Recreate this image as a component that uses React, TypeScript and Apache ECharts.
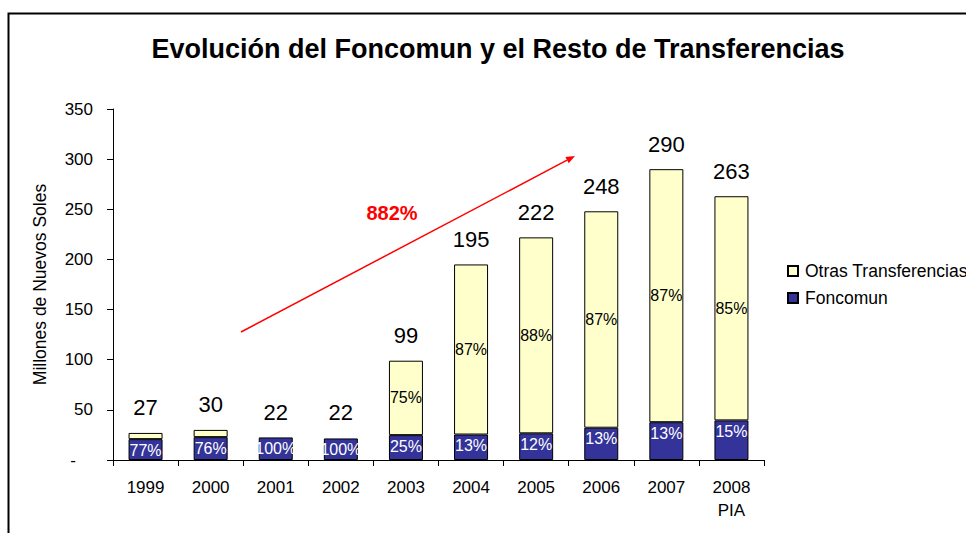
import React, { useEffect, useRef } from "react";
import * as echarts from "echarts";

const years = ["1999", "2000", "2001", "2002", "2003", "2004", "2005", "2006", "2007", "2008\nPIA"];
const foncomun = [20.8, 22.8, 22.5, 21.5, 24.8, 25.4, 26.6, 32.2, 37.7, 39.5];
const otras = [6.2, 7.2, null, null, 74.2, 169.6, 195.4, 215.8, 252.3, 223.5];
const totals = [27, 30, 22, 22, 99, 195, 222, 248, 290, 263];
const foncomunPct = ["77%", "76%", "100%", "100%", "25%", "13%", "12%", "13%", "13%", "15%"];
const otrasPct = ["", "", "", "", "75%", "87%", "88%", "87%", "87%", "85%"];
const yTicks = { min: 0, max: 350, interval: 50 };

const FONT = "'Liberation Sans', Arial, sans-serif";

export default function App() {
  const ref = useRef<HTMLDivElement>(null);
  useEffect(() => {
    if (!ref.current) return;
    const chart = echarts.init(ref.current, null, { renderer: "svg" });
    // arrow geometry
    const x1 = 241, y1 = 332, x2 = 575, y2 = 156;
    const len = Math.hypot(x2 - x1, y2 - y1);
    const dx = (x2 - x1) / len, dy = (y2 - y1) / len;
    const hl = 9, hw = 3.5;
    const bx = x2 - dx * hl, by = y2 - dy * hl;
    const px = -dy * hw, py = dx * hw;
    chart.setOption({
      animation: false,
      textStyle: { fontFamily: FONT },
      title: {
        text: "Evolución del Foncomun y el Resto de Transferencias",
        left: 493,
        textAlign: "center",
        top: 30,
        textStyle: { fontFamily: FONT, fontSize: 27, fontWeight: "bold", color: "#000" },
      },
      legend: {
        orient: "vertical",
        left: 787,
        top: 262,
        padding: 0,
        itemWidth: 10,
        itemHeight: 10,
        itemGap: 9,
        data: ["Otras Transferencias", "Foncomun"],
        textStyle: { fontFamily: FONT, fontSize: 17.5, color: "#000", padding: [0, 0, 0, 2] },
        icon: "rect",
      },
      grid: { left: 113, right: 202, top: 109, bottom: 73, containLabel: false },
      xAxis: {
        type: "category",
        data: years,
        axisLine: { lineStyle: { color: "#000", width: 1 } },
        axisTick: { show: true, length: 6, inside: false, lineStyle: { color: "#000" } },
        axisLabel: { fontFamily: FONT, fontSize: 17, color: "#000", margin: 16, lineHeight: 23, interval: 0 },
      },
      yAxis: {
        type: "value",
        min: yTicks.min,
        max: yTicks.max,
        interval: yTicks.interval,
        name: "Millones de Nuevos Soles",
        nameLocation: "middle",
        nameGap: 64,
        nameRotate: 90,
        nameTextStyle: { fontFamily: FONT, fontSize: 17.5, color: "#000" },
        axisLine: { show: true, lineStyle: { color: "#000", width: 1 } },
        axisTick: { show: true, length: 6, lineStyle: { color: "#000" } },
        splitLine: { show: false },
        axisLabel: {
          fontFamily: FONT,
          fontSize: 17,
          color: "#000",
          margin: 20,
          formatter: (v: number) => (v === 0 ? "{d|-}" : String(v)),
          rich: { d: { fontFamily: FONT, fontSize: 17, color: "#000", padding: [0, 17, 0, 0] } },
        },
      },
      series: [
        {
          name: "Foncomun",
          type: "bar",
          stack: "t",
          barWidth: 34,
          data: foncomun,
          itemStyle: { color: "#333399", borderColor: "#000", borderWidth: 1 },
          label: {
            show: true,
            position: "insideTop",
            distance: 3,
            fontFamily: FONT,
            fontSize: 16,
            color: "#fff",
            formatter: (p: any) => foncomunPct[p.dataIndex],
          },
        },
        {
          name: "Otras Transferencias",
          type: "bar",
          stack: "t",
          barWidth: 34,
          data: otras,
          itemStyle: { color: "#FFFFCC", borderColor: "#000", borderWidth: 1 },
          label: {
            show: true,
            position: "inside",
            fontFamily: FONT,
            fontSize: 16,
            color: "#000",
            formatter: (p: any) => otrasPct[p.dataIndex],
          },
        },
        {
          name: "Total",
          type: "scatter",
          data: totals,
          symbolSize: 0,
          silent: true,
          itemStyle: { opacity: 1, color: "transparent" },
          label: {
            show: true,
            position: "top",
            distance: 14,
            fontFamily: FONT,
            fontSize: 22,
            color: "#000",
            opacity: 1,
            formatter: (p: any) => String(totals[p.dataIndex]),
          },
        },
      ],
      graphic: [
        {
          type: "rect",
          shape: { x: 8.5, y: 13.5, width: 1200, height: 800 },
          style: { fill: "none", stroke: "#000", lineWidth: 2 },
          silent: true,
        },
        {
          type: "line",
          shape: { x1, y1, x2: bx, y2: by },
          style: { stroke: "#ff0000", lineWidth: 1.5 },
          silent: true,
        },
        {
          type: "polygon",
          shape: { points: [[x2, y2], [bx + px, by + py], [bx - px, by - py]] },
          style: { fill: "#ff0000" },
          silent: true,
        },
        {
          type: "text",
          x: 392,
          y: 213,
          style: {
            text: "882%",
            fill: "#ff0000",
            font: `bold 20px ${FONT}`,
            textAlign: "center",
            textVerticalAlign: "middle",
          },
          silent: true,
        },
      ],
    });
    return () => chart.dispose();
  }, []);
  return (
    <div
      ref={ref}
      style={{ position: "absolute", left: 0, top: 0, width: 966, height: 533, background: "#fff" }}
    />
  );
}
